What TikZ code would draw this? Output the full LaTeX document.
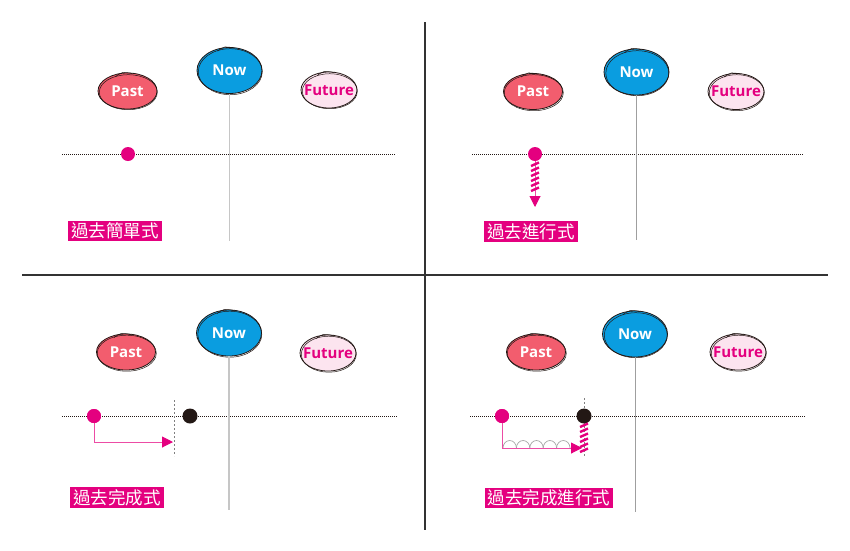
\documentclass[tikz,border=0pt]{standalone}
\usepackage{fontspec}
\newfontfamily\cjk{Noto Sans CJK TC}
\newfontfamily\lat{Open Sans}
\usetikzlibrary{shapes.geometric,arrows.meta,calc}
\definecolor{mag}{HTML}{E4007F}
\definecolor{pastc}{HTML}{F25D6E}
\definecolor{nowc}{HTML}{0A9DE0}
\definecolor{futc}{HTML}{FCE4EF}
\definecolor{inkc}{HTML}{231815}
\definecolor{divc}{HTML}{333333}
\tikzset{
  bub/.style={ellipse,draw=inkc,line width=0.8pt,inner sep=0pt,font=\lat\bfseries\fontsize{15}{15}\selectfont},
  pastb/.style={bub,fill=pastc,text=white,minimum width=59pt,minimum height=36pt},
  nowb/.style={bub,fill=nowc,text=white,minimum width=65pt,minimum height=46pt},
  futb/.style={bub,fill=futc,text=mag,minimum width=56pt,minimum height=36pt},
  sk/.style={draw=inkc,line width=0.5pt},
  tag/.style={fill=mag,text=white,inner xsep=3pt,inner ysep=2pt,font=\cjk\fontsize{17.5}{18}\selectfont},
  dotm/.style={circle,fill=mag,minimum size=14pt,inner sep=0pt},
  dotk/.style={circle,fill=inkc,minimum size=15pt,inner sep=0pt},
  tline/.style={line width=1.4pt},
  dotline/.style={inkc,line width=0.7pt,dash pattern=on 1pt off 1pt},
  divider/.style={divc,line width=1.8pt},
  dashline/.style={gray,line width=0.7pt,dash pattern=on 2pt off 2pt},
  pinkline/.style={mag!70,line width=1pt},
  tip/.style={-{Triangle[width=11pt,length=11pt,color=mag]}},
  coilstroke/.style={mag,line width=2.4pt},
  arcs/.style={gray!70,line width=0.7pt}
}
\newcommand{\sketchy}[3]{%
  \draw[sk] ($(#1.center)+(0.8,1.2)$) ellipse [x radius=#2, y radius=#3];
  \draw[sk] ($(#1.north)+(-12,4)$) .. controls ($(#1.north)+(-5,-1)$) .. ($(#1.north)+(5,1)$);
}
% spring: #1 x, #2 top y, #3 count
\newcommand{\spr}[3]{%
  \foreach \j in {1,...,#3}{
    \draw[coilstroke] (#1-4,#2+5*\j) -- (#1+4,#2+5*\j-3.5);
  }
}
\newcommand{\tx}[1]{\makebox[0pt]{#1}}
\begin{document}
\begin{tikzpicture}[x=1pt,y=-1pt]
\useasboundingbox (0,0) rectangle (850,550);
% dividers
\coordinate (dva) at (425,22); \coordinate (dvb) at (425,530);
\coordinate (dha) at (22,275); \coordinate (dhb) at (828,275);
\draw[divider] (dva) -- (dvb);
\draw[divider] (dha) -- (dhb);

% ---------- Panel 1 ----------
\coordinate (l1a) at (62,154); \coordinate (l1b) at (396,154);
\draw[dotline] (l1a) -- (l1b);
\node[pastb] (p1) at (127.5,91) {\tx{Past}};
\node[nowb] (n1) at (229.5,70.5) {\tx{Now}};
\node[futb] (f1) at (329,90) {\tx{Future}};
\sketchy{p1}{29pt}{17.5pt}\sketchy{n1}{32pt}{23pt}\sketchy{f1}{27.5pt}{17.5pt}
\coordinate (t1) at (229.5,241);
\draw[tline,gray!45] (n1.south) -- (t1);
\node[dotm] (d1) at (128,154) {};
\node[tag] (g1) at (115,231) {過去簡單式};

% ---------- Panel 2 ----------
\coordinate (l2a) at (472,154); \coordinate (l2b) at (803,154);
\draw[dotline] (l2a) -- (l2b);
\node[pastb] (p2) at (533,91.5) {\tx{Past}};
\node[nowb] (n2) at (636.5,72) {\tx{Now}};
\node[futb] (f2) at (736,91.5) {\tx{Future}};
\sketchy{p2}{29.5pt}{18pt}\sketchy{n2}{31.5pt}{22.5pt}\sketchy{f2}{27.5pt}{18pt}
\coordinate (t2) at (636.5,240);
\draw[tline,gray!75,line width=1pt] (n2.south) -- (t2);
\node[dotm] (d2) at (535,154) {};
\coordinate (s2b) at (535,192); \coordinate (a2) at (535,207);
\draw[pinkline] (d2) -- (s2b);
\spr{535}{161}{6}
\draw[pinkline,tip] (s2b) -- (a2);
\node[tag] (g2) at (531,231.5) {過去進行式};

% ---------- Panel 3 ----------
\coordinate (l3a) at (62,416); \coordinate (l3b) at (398,416);
\draw[dotline] (l3a) -- (l3b);
\node[pastb] (p3) at (126,352) {\tx{Past}};
\node[nowb] (n3) at (229,333) {\tx{Now}};
\node[futb] (f3) at (328,353) {\tx{Future}};
\sketchy{p3}{29.5pt}{18pt}\sketchy{n3}{32pt}{23pt}\sketchy{f3}{27.5pt}{18pt}
\coordinate (t3) at (229,510);
\draw[tline,gray!45] (n3.south) -- (t3);
\coordinate (v3a) at (174,400); \coordinate (v3b) at (174,456);
\draw[dashline] (v3a) -- (v3b);
\node[dotm] (d3) at (94,416) {};
\node[dotk] (k3) at (190,416) {};
\coordinate (a3) at (173,442);
\draw[pinkline,tip] (d3.center) |- (a3);
\node[dotm] at (94,416) {};
\node[tag] (g3) at (117,497.5) {過去完成式};

% ---------- Panel 4 ----------
\coordinate (l4a) at (470,416); \coordinate (l4b) at (805,416);
\draw[dotline] (l4a) -- (l4b);
\node[pastb] (p4) at (536,352) {\tx{Past}};
\node[nowb] (n4) at (635,334) {\tx{Now}};
\node[futb] (f4) at (738,352) {\tx{Future}};
\sketchy{p4}{29.5pt}{18pt}\sketchy{n4}{31.5pt}{22.5pt}\sketchy{f4}{27.5pt}{18pt}
\coordinate (t4) at (635,512);
\draw[tline,gray!75,line width=1pt] (n4.south) -- (t4);
\coordinate (v4a) at (584,398); \coordinate (v4b) at (584,456);
\draw[dashline] (v4a) -- (v4b);
\foreach \i in {0,...,4}{
  \draw[arcs] (503+13.4*\i,448) arc [start angle=180,end angle=0,x radius=6.7pt,y radius=7.5pt];
}
\node[dotm] (d4) at (502,416) {};
\node[dotk] (k4) at (584,416) {};
\coordinate (a4) at (582,448);
\draw[pinkline,tip] (d4.center) |- (a4);
\node[dotm] at (502,416) {};
\spr{584}{422}{6}
\node[tag] (g4) at (549,498) {過去完成進行式};
\end{tikzpicture}
\end{document}
